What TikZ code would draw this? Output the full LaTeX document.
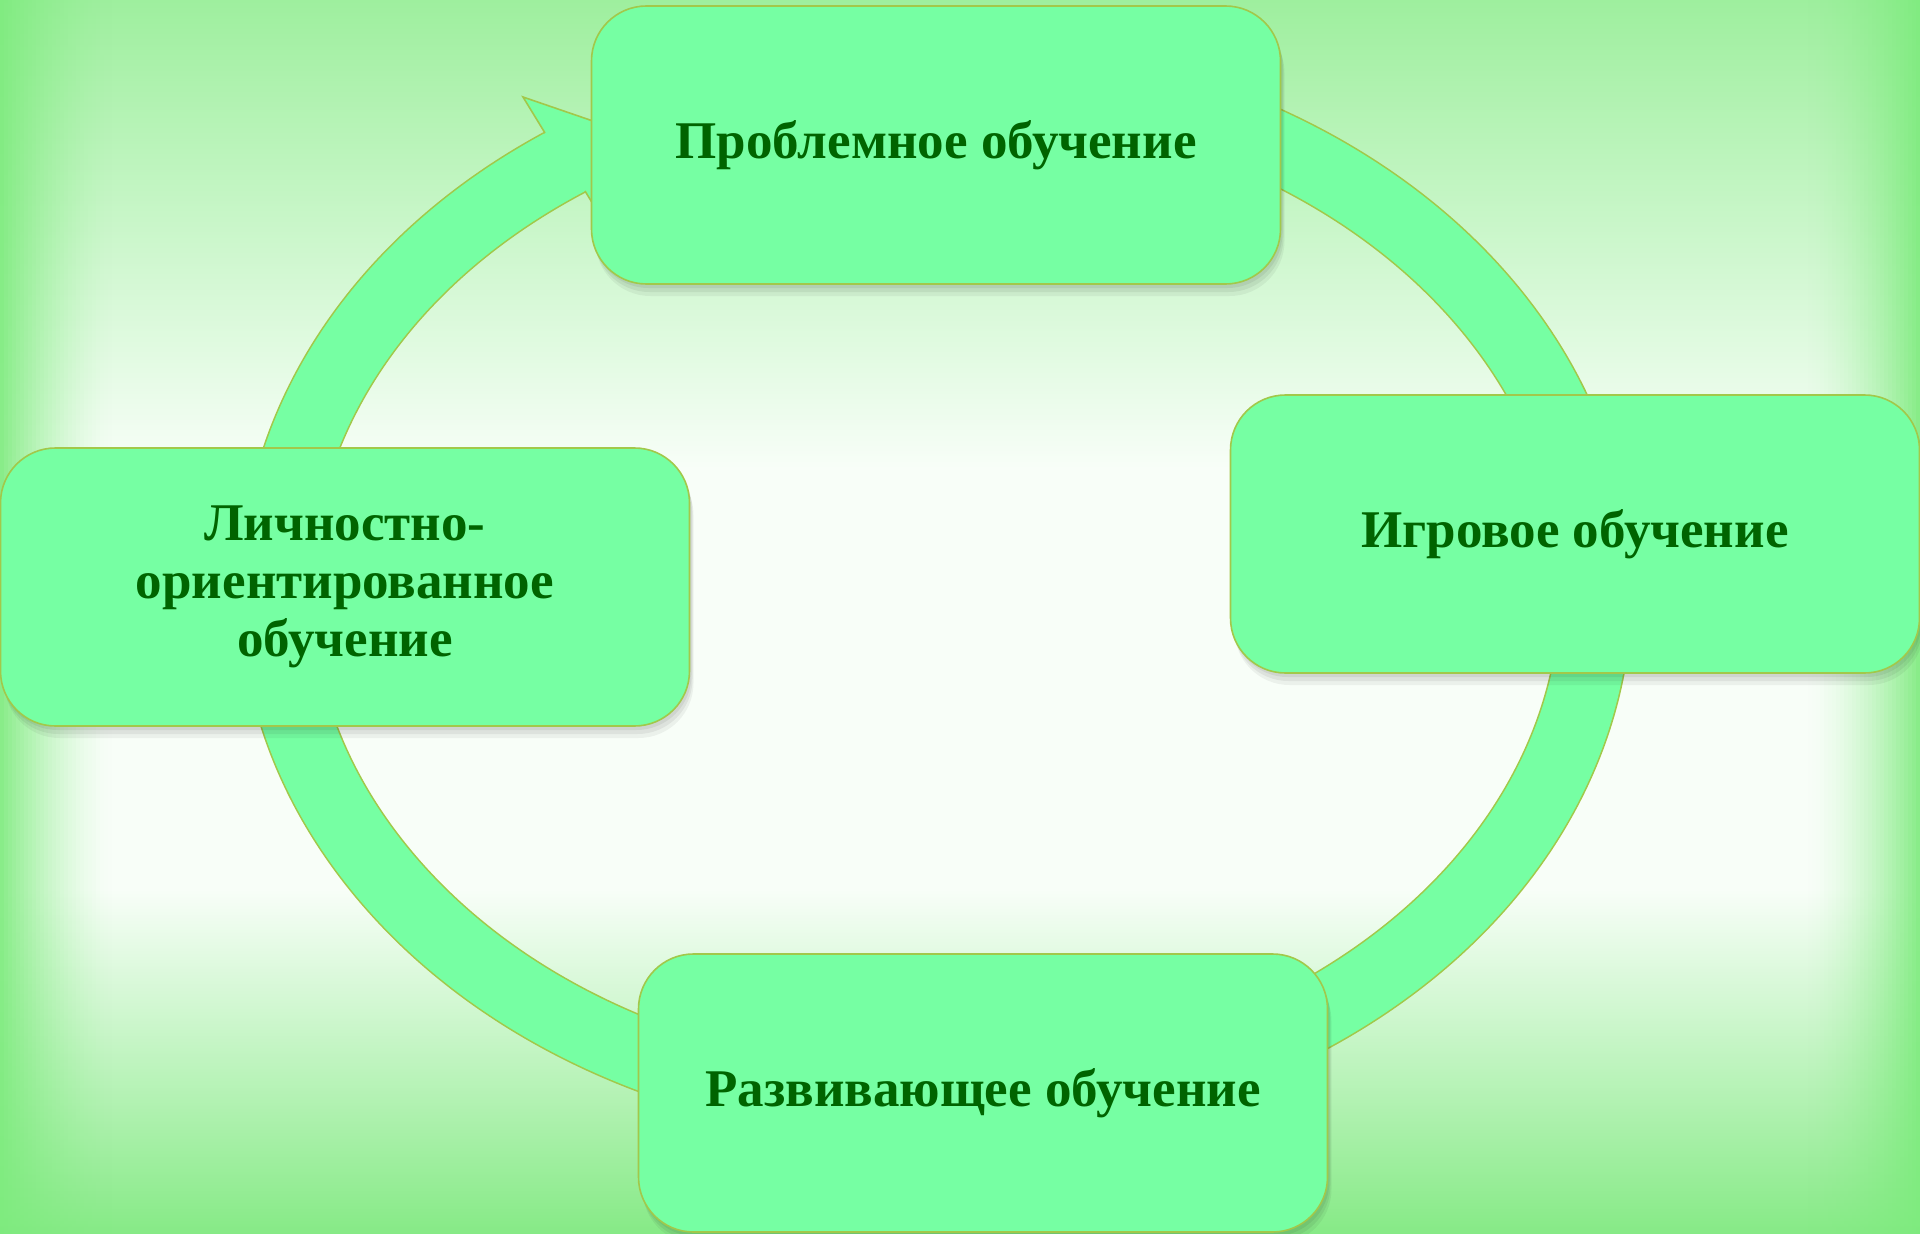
\documentclass[tikz,border=0pt]{standalone}
\usepackage{fontspec}
\setmainfont{Liberation Serif}
\definecolor{boxfill}{HTML}{76FFA3}
\definecolor{boxline}{HTML}{A2C84A}
\definecolor{txt}{HTML}{006400}
\definecolor{bgtop}{HTML}{9EEF9E}
\definecolor{bgbot}{HTML}{86EA86}
\definecolor{bgwhite}{HTML}{F8FEF8}
\definecolor{edgegreen}{HTML}{7EEB7E}
% TikZ maps the path box onto the 25bp..75bp band of the shading
\pgfdeclareverticalshading{bgv}{100bp}{color(0bp)=(bgbot); color(25bp)=(bgbot); color(39bp)=(bgwhite); color(56bp)=(bgwhite); color(75bp)=(bgtop); color(100bp)=(bgtop)}
\begin{document}
\begin{tikzpicture}[x=1pt,y=-1pt,
  box/.style={draw=boxline, line width=1.6pt, fill=boxfill, rounded corners=55pt,
    minimum width=689pt, minimum height=278pt, inner sep=0pt, align=center,
    text=txt, font=\fontsize{53}{58}\selectfont\bfseries,
    preaction={fill=black, opacity=0.06, transform canvas={xshift=2pt, yshift=-4pt}},
    preaction={fill=black, opacity=0.06, transform canvas={xshift=3pt, yshift=-8pt}},
    preaction={fill=black, opacity=0.05, transform canvas={xshift=4pt, yshift=-12pt}}},
  ringline/.style={draw=boxline, line width=1.6pt, double=boxfill, double distance=70pt},
  headshape/.style={fill=boxfill, draw=boxline, line width=1.6pt, line join=miter}]
% background
\useasboundingbox (0,0) rectangle (1920,1234);
\shade[shading=bgv] (0,0) rectangle (1920,1234);
\foreach \i in {0,...,27} {
  \pgfmathsetmacro{\op}{0.9*(1-\i/28)^1.6}
  \fill[edgegreen, opacity=\op] (\i*4,0) rectangle ++(4,1234);
  \fill[edgegreen, opacity=\op] (1920-\i*4,0) rectangle ++(-4,1234);
}
% ring
\draw[ringline] (581.3,153.7) arc[start angle=-122.5, end angle=-444.5, x radius=660, y radius=518];
% arrow head
\filldraw[headshape] (545,133) -- (523,97) -- (622,131) -- (607,227) -- (585,191);
% boxes
\node[box] (top) at (936,145) {Проблемное обучение};
\node[box] (right) at (1575,534) {Игровое обучение};
\node[box] (bottom) at (983,1093) {Развивающее обучение};
\node[box] (left) at (345,587) {Личностно-\\ориентированное\\обучение};
\end{tikzpicture}
\end{document}
